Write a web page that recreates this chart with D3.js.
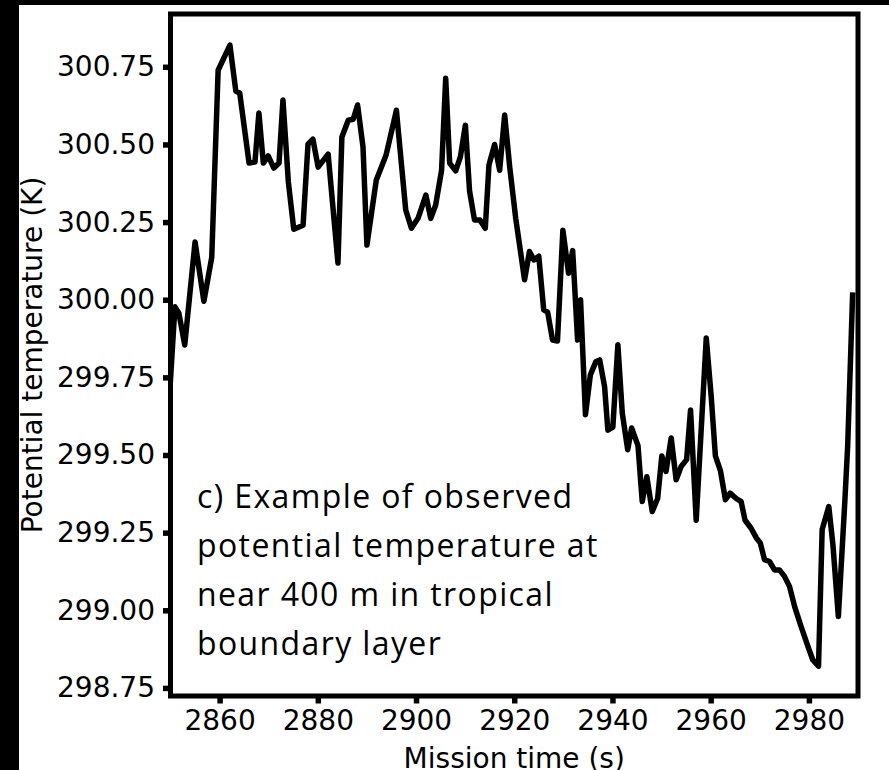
<!DOCTYPE html>
<html>
<head>
<meta charset="utf-8">
<script src="https://cdn.jsdelivr.net/npm/d3@7"></script>
<style>
  html, body { margin: 0; padding: 0; background: #fff; }
  svg { display: block; }
</style>
</head>
<body>
<script>
// Mission time (s) of each sample
const missionTime = [
  2850.0, 2850.9, 2851.7, 2852.9, 2855.0, 2856.8, 2858.4, 2859.7, 2862.1, 2863.3,
  2864.1, 2866.0, 2867.2, 2868.0, 2868.9, 2869.9, 2871.05, 2872.1, 2872.9, 2874.0,
  2875.1, 2877.0, 2878.0, 2879.0, 2880.06, 2882.1, 2884.1, 2884.9, 2886.2, 2887.2,
  2888.1, 2889.2, 2890.0, 2891.9, 2893.9, 2896.0, 2897.9, 2899.06, 2900.4, 2902.0,
  2903.0, 2904.0, 2905.2, 2906.04, 2906.85, 2908.07, 2909.03, 2910.05, 2910.9, 2911.9,
  2913.0, 2914.1, 2914.85, 2916.0, 2917.03, 2918.05, 2919.06, 2920.3, 2922.1, 2923.1,
  2924.0, 2925.0, 2926.0, 2926.8, 2927.8, 2928.8, 2929.9, 2931.07, 2931.9, 2932.9,
  2933.5, 2934.5, 2935.5, 2936.6, 2937.4, 2938.4, 2939.06, 2940.08, 2941.1, 2942.0,
  2943.1, 2943.9, 2945.2, 2946.06, 2947.0, 2948.1, 2949.2, 2950.05, 2950.9, 2951.96,
  2952.97, 2953.99, 2955.1, 2955.9, 2957.05, 2959.1, 2960.1, 2960.96, 2961.98, 2963.0,
  2963.96, 2965.2, 2966.2, 2967.0, 2968.2, 2969.3, 2970.1, 2970.96, 2971.98, 2973.0,
  2974.0, 2975.0, 2976.05, 2977.1, 2978.4, 2979.8, 2980.8, 2981.96, 2982.7, 2984.05,
  2984.9, 2986.0, 2987.3, 2987.9, 2988.9
];

// Potential temperature (K) at each sample
const potentialTemp = [
  299.742, 299.977, 299.957, 299.854, 300.186, 299.995, 300.137, 300.739, 300.820, 300.672,
  300.665, 300.440, 300.443, 300.601, 300.440, 300.463, 300.424, 300.440, 300.643, 300.379,
  300.227, 300.240, 300.501, 300.517, 300.427, 300.469, 300.118, 300.524, 300.578, 300.581,
  300.627, 300.492, 300.176, 300.385, 300.466, 300.610, 300.289, 300.230, 300.262, 300.337,
  300.262, 300.305, 300.417, 300.713, 300.440, 300.415, 300.460, 300.562, 300.350, 300.257,
  300.257, 300.230, 300.434, 300.500, 300.417, 300.595, 300.430, 300.262, 300.064, 300.155,
  300.128, 300.140, 299.967, 299.960, 299.870, 299.867, 300.224, 300.085, 300.158, 299.870,
  300.000, 299.630, 299.758, 299.800, 299.806, 299.720, 299.580, 299.590, 299.855, 299.635,
  299.517, 299.587, 299.530, 299.350, 299.430, 299.318, 299.360, 299.497, 299.447, 299.555,
  299.420, 299.463, 299.485, 299.645, 299.290, 299.877, 299.690, 299.497, 299.450, 299.356,
  299.377, 299.360, 299.350, 299.290, 299.265, 299.233, 299.217, 299.163, 299.157, 299.130,
  299.130, 299.110, 299.077, 299.012, 298.948, 298.884, 298.840, 298.820, 299.260, 299.334,
  299.210, 298.980, 299.345, 299.530, 300.015
];

const xTicks = [2860, 2880, 2900, 2920, 2940, 2960, 2980];
const yTicks = [298.75, 299.00, 299.25, 299.50, 299.75, 300.00, 300.25, 300.50, 300.75];

const annotationLines = [
  "c) Example of observed",
  "potential temperature at",
  "near 400 m in tropical",
  "boundary layer"
];

const W = 889, H = 770;
const plot = { left: 170.5, right: 858, top: 14, bottom: 696 };

const svg = d3.select("body").append("svg")
  .attr("width", W).attr("height", H);

svg.append("rect").attr("width", W).attr("height", H).attr("fill", "#fff");

// dark strips along the top and left edges of the figure
svg.append("rect").attr("x", 0).attr("y", 0).attr("width", W).attr("height", 5).attr("fill", "#000");
svg.append("rect").attr("x", 0).attr("y", 0).attr("width", 19).attr("height", H).attr("fill", "#000");

const x = d3.scaleLinear().domain([2850, 2990]).range([plot.left, plot.right]);
const y = d3.scaleLinear().domain([298.724, 300.920]).range([plot.bottom, plot.top]);

const tickFont = "'DejaVu Sans', sans-serif";

// x axis
const xAxis = svg.append("g")
  .attr("transform", `translate(0,${plot.bottom})`)
  .call(d3.axisBottom(x).tickValues(xTicks).tickFormat(d3.format("d")).tickSize(7.5).tickPadding(7));
xAxis.select(".domain").remove();
xAxis.selectAll(".tick line").attr("stroke", "#000").attr("stroke-width", 5.5);
xAxis.selectAll(".tick text")
  .attr("font-family", tickFont).attr("font-size", 28).attr("fill", "#000");

// y axis
const yAxis = svg.append("g")
  .attr("transform", `translate(${plot.left},0)`)
  .call(d3.axisLeft(y).tickValues(yTicks).tickFormat(d3.format(".2f")).tickSize(7.5).tickPadding(8));
yAxis.select(".domain").remove();
yAxis.selectAll(".tick line").attr("stroke", "#000").attr("stroke-width", 5.5);
yAxis.selectAll(".tick text")
  .attr("font-family", tickFont).attr("font-size", 28).attr("fill", "#000");

// axis titles
svg.append("text")
  .attr("x", (plot.left + plot.right) / 2).attr("y", 768)
  .attr("text-anchor", "middle")
  .attr("font-family", tickFont).attr("font-size", 28).attr("fill", "#000")
  .text("Mission time (s)");

svg.append("text")
  .attr("transform", `translate(42,${(plot.top + plot.bottom) / 2}) rotate(-90)`)
  .attr("text-anchor", "middle")
  .attr("font-family", tickFont).attr("font-size", 28).attr("fill", "#000")
  .text("Potential temperature (K)");

// data line
const data = missionTime.map((t, i) => ({ t, v: potentialTemp[i] }));
svg.append("clipPath").attr("id", "plot-clip")
  .append("rect")
  .attr("x", plot.left).attr("y", plot.top)
  .attr("width", plot.right - plot.left).attr("height", plot.bottom - plot.top);

svg.append("path")
  .datum(data)
  .attr("clip-path", "url(#plot-clip)")
  .attr("fill", "none")
  .attr("stroke", "#000")
  .attr("stroke-width", 5.5)
  .attr("stroke-linejoin", "round")
  .attr("stroke-linecap", "square")
  .attr("d", d3.line().x(d => x(d.t)).y(d => y(d.v)));

// plot frame
svg.append("rect")
  .attr("x", plot.left).attr("y", plot.top)
  .attr("width", plot.right - plot.left).attr("height", plot.bottom - plot.top)
  .attr("fill", "none").attr("stroke", "#000").attr("stroke-width", 5);

// annotation, spaced so the first line spans about 375 px
const note = svg.append("text")
  .attr("font-family", "'Open Sans', sans-serif").attr("font-size", 32).attr("fill", "#000");
const spans = annotationLines.map((line, i) =>
  note.append("tspan").attr("x", 197).attr("y", 508 + i * 49).text(line));
const firstWidth = spans[0].node().getComputedTextLength();
const spacing = (375 - firstWidth) / (annotationLines[0].length - 1);
note.attr("letter-spacing", Math.max(-1, Math.min(3, spacing)));
</script>
</body>
</html>
